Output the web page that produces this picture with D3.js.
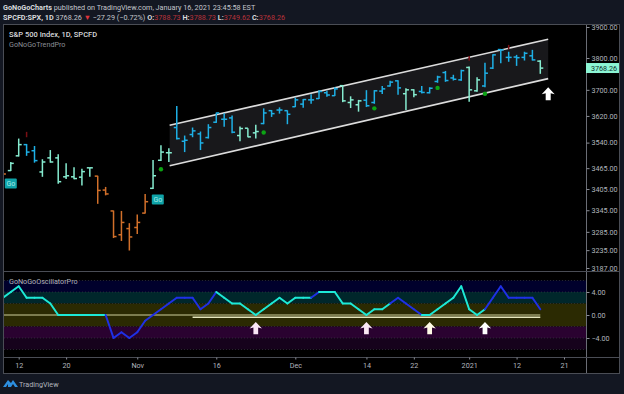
<!DOCTYPE html>
<html>
<head>
<meta charset="utf-8">
<script src="https://cdn.jsdelivr.net/npm/d3@7"></script>
<style>
  html, body { margin: 0; padding: 0; background: #131722; overflow: hidden; }
  text { font-family: Roboto, "Open Sans", sans-serif; }
</style>
</head>
<body>
<div id="chart"></div>
<script>
// daily bars, first entry is the one cut off at the left edge, Jan 15 is the last
const firstBar = -2;
const opens = [3465, 3458, 3501, 3534, 3516, 3454, 3495, 3495, 3440, 3440, 3439, 3466, 3442, 3402, 3343, 3277, 3294, 3297, 3337, 3407, 3488, 3510,
  3585, 3544, 3564, 3566, 3555, 3601, 3610, 3614, 3561, 3583, 3569, 3597, 3636, 3638, 3636, 3648, 3656, 3669, 3673, 3691, 3682, 3713, 3661, 3654,
  3668, 3661, 3696, 3712, 3728, 3688, 3700, 3695, 3691, 3726, 3754, 3737, 3731, 3770, 3697, 3712, 3768, 3827, 3802, 3803, 3802, 3807, 3790];
const highs = [3470, 3483, 3552, 3536, 3530, 3491, 3518, 3506, 3479, 3468, 3463, 3466, 3443, 3411, 3344, 3343, 3309, 3333, 3391, 3489, 3532, 3523,
  3650, 3561, 3585, 3573, 3595, 3630, 3628, 3621, 3588, 3583, 3593, 3643, 3638, 3646, 3637, 3676, 3672, 3686, 3699, 3697, 3708, 3715, 3680, 3669,
  3699, 3699, 3712, 3728, 3730, 3705, 3702, 3712, 3708, 3744, 3759, 3747, 3763, 3773, 3739, 3785, 3812, 3829, 3820, 3810, 3820, 3826, 3793];
const lows = [3440, 3457, 3499, 3501, 3481, 3440, 3481, 3420, 3434, 3433, 3415, 3440, 3363, 3387, 3268, 3260, 3234, 3279, 3336, 3405, 3486, 3483,
  3549, 3512, 3556, 3518, 3552, 3599, 3587, 3568, 3544, 3556, 3552, 3595, 3617, 3627, 3595, 3647, 3645, 3657, 3672, 3679, 3681, 3662, 3644, 3633,
  3647, 3657, 3687, 3710, 3685, 3638, 3677, 3689, 3689, 3722, 3725, 3729, 3728, 3663, 3694, 3708, 3765, 3783, 3788, 3775, 3792, 3792, 3750];
const closes = [3448, 3479, 3534, 3512, 3487, 3483, 3483, 3426, 3443, 3435, 3455, 3466, 3401, 3391, 3272, 3311, 3271, 3311, 3369, 3443, 3512, 3510,
  3552, 3547, 3575, 3539, 3585, 3629, 3610, 3571, 3582, 3557, 3573, 3629, 3627, 3638, 3625, 3669, 3670, 3669, 3695, 3684, 3703, 3666, 3669, 3666,
  3651, 3697, 3703, 3724, 3706, 3700, 3685, 3692, 3705, 3740, 3729, 3733, 3760, 3700, 3731, 3752, 3810, 3826, 3802, 3801, 3815, 3794, 3768];
const trend = ["o","m","m","b","b","m","m","m","m","m","m","m","o","o","o","o","o","o","o","m","m","m",
  "b","b","b","b","b","b","b","b","m","m","m","b","b","b","b","b","b","b","b","b","b","m","m","m",
  "b","b","b","b","b","m","m","b","b","b","b","b","b","m","m","b","b","b","b","b","b","b","m"];

// little dark red blips above a few bars
const nogoBars = [1, 57, 62];
const nogoTop = [3572, 3806, 3842];
const nogoBottom = [3556, 3791, 3828];

// green dots
const dotBars = [18, 31, 45, 53, 59];
const dotPrices = [3462, 3570, 3643, 3706, 3688];

// go labels
const goBars = [-1, 17.6];
const goPrices = [3421, 3375];

// channel drawn on the chart
const channelBars = [19.1, 67];
const channelUpper = [3592, 3860];
const channelLower = [3472, 3735];

const priceTicks = [3900, 3800, 3700, 3620, 3540, 3465, 3405, 3345, 3285, 3235, 3187];
const lastPrice = 3768.26;

const oscFirst = -2;
const oscValues = [3, 4, 5, 3, 3, 3, 2, 0, 0, 0, 0, 0, 0, 0, -4, -3, -4, -3, -1, 0, 1, 2, 3, 3, 3, 1, 2, 4, 3, 2, 2, 1, 0, 1, 2, 3, 2, 3, 3, 3,
  4, 4, 4, 2, 2, 1, 0, 1, 1, 2, 3, 2, 1, 0, 0, 1, 2, 3, 5, 1, 0, 1, 3, 5, 3, 3, 3, 3, 1];
const oscBlue = [[11, 25], [37, 38], [47, 51], [59, 66]];
const oscTicks = [4, 0, -4];
const oscBands = [[6, 4, "#00002c"], [4, 2, "#00272b"], [2, -2, "#2b2a02"], [-2, -4, "#2a0230"], [-4, -6, "#16021c"]];
const supportFrom = 22;
const supportTo = 66;
const supportLevel = -0.4;
const oscArrowBars = [30, 44, 52, 59];

const timeTicks = [0, 6, 15, 25, 35, 44, 50, 57, 63, 69];
const timeLabels = ["12", "20", "Nov", "16", "Dec", "14", "22", "2021", "12", "21"];

const width = 624, height = 394;
const plotLeft = 4, plotRight = 586, plotTop = 25, paneDiv = 271, paneBottom = 357, plotBottom = 373, axisRight = 619;

const colors = { m: "#86ecd0", b: "#1eb0e6", o: "#d2702a" };

const svg = d3.select("#chart").append("svg")
  .attr("width", width)
  .attr("height", height)
  .style("display", "block");

svg.append("rect").attr("width", width).attr("height", height).attr("fill", "#131722");
svg.append("rect").attr("x", plotLeft).attr("y", plotTop).attr("width", axisRight - plotLeft).attr("height", plotBottom - plotTop).attr("fill", "#000");

const defs = svg.append("defs");
defs.append("clipPath").attr("id", "plot-clip")
  .append("rect").attr("x", plotLeft).attr("y", plotTop).attr("width", plotRight - plotLeft).attr("height", paneBottom - plotTop);

const x = d3.scaleLinear().domain([0, 69]).range([18.7, 564]);
const y = d3.scaleLog().domain([3187, 3900]).range([268, 27]);
const yOsc = d3.scaleLinear().domain([-6, 6]).range([349.5, 280.5]);

const plot = svg.append("g").attr("clip-path", "url(#plot-clip)");

// oscillator bands behind everything
plot.selectAll("rect.band")
  .data(oscBands)
  .join("rect")
  .attr("class", "band")
  .attr("x", plotLeft)
  .attr("width", plotRight - plotLeft)
  .attr("y", d => yOsc(d[0]))
  .attr("height", d => yOsc(d[1]) - yOsc(d[0]))
  .attr("fill", d => d[2]);

plot.selectAll("line.bandline")
  .data([6, 4, 2, -2, -4, -6])
  .join("line")
  .attr("class", "bandline")
  .attr("x1", plotLeft).attr("x2", plotRight)
  .attr("y1", d => yOsc(d)).attr("y2", d => yOsc(d))
  .attr("stroke", "#3c3c46")
  .attr("stroke-width", 0.6)
  .attr("stroke-dasharray", "1,2");

// channel
const channelArea = d3.area()
  .x((d, i) => x(channelBars[i]))
  .y0((d, i) => y(channelLower[i]))
  .y1((d, i) => y(channelUpper[i]));
plot.append("path").datum(channelBars).attr("d", channelArea).attr("fill", "#18181b");
[channelUpper, channelLower].forEach(level => {
  plot.append("line")
    .attr("x1", x(channelBars[0])).attr("x2", x(channelBars[1]))
    .attr("y1", y(level[0])).attr("y2", y(level[1]))
    .attr("stroke", "#dcdcdc")
    .attr("stroke-width", 1.6);
});

// ohlc bars
const bars = plot.selectAll("g.bar")
  .data(opens.map((o, i) => ({ i: firstBar + i, o, h: highs[i], l: lows[i], c: closes[i], t: trend[i] })))
  .join("g")
  .attr("class", "bar")
  .attr("stroke", d => colors[d.t])
  .attr("stroke-width", 1.5);
bars.append("line").attr("x1", d => x(d.i)).attr("x2", d => x(d.i)).attr("y1", d => y(d.h)).attr("y2", d => y(d.l));
bars.append("line").attr("x1", d => x(d.i) - 3).attr("x2", d => x(d.i)).attr("y1", d => y(d.o)).attr("y2", d => y(d.o));
bars.append("line").attr("x1", d => x(d.i)).attr("x2", d => x(d.i) + 3).attr("y1", d => y(d.c)).attr("y2", d => y(d.c));

plot.selectAll("line.nogo")
  .data(nogoBars)
  .join("line")
  .attr("class", "nogo")
  .attr("x1", d => x(d)).attr("x2", d => x(d))
  .attr("y1", (d, i) => y(nogoTop[i])).attr("y2", (d, i) => y(nogoBottom[i]))
  .attr("stroke", "#7a0f14")
  .attr("stroke-width", 1.5);

plot.selectAll("circle.dot")
  .data(dotBars)
  .join("circle")
  .attr("class", "dot")
  .attr("cx", d => x(d))
  .attr("cy", (d, i) => y(dotPrices[i]))
  .attr("r", 2.2)
  .attr("fill", "#0ca414");

// Go labels
const go = plot.selectAll("g.go").data(goBars).join("g")
  .attr("class", "go")
  .attr("transform", (d, i) => `translate(${x(d)},${y(goPrices[i])})`);
go.append("rect").attr("x", -6).attr("y", -5).attr("width", 12).attr("height", 10).attr("rx", 1).attr("fill", "#0fa3a8");
go.append("text").attr("text-anchor", "middle").attr("y", 2.7).attr("font-size", 7).attr("fill", "#a6ecea").text("Go");

// oscillator zero line and support line
plot.append("line")
  .attr("x1", plotLeft).attr("x2", x(66))
  .attr("y1", yOsc(0)).attr("y2", yOsc(0))
  .attr("stroke", "#cfcf9c").attr("stroke-width", 1);
plot.append("line")
  .attr("x1", x(supportFrom)).attr("x2", x(supportTo))
  .attr("y1", yOsc(supportLevel)).attr("y2", yOsc(supportLevel))
  .attr("stroke", "#e6e6bc").attr("stroke-width", 1.6);

// oscillator line, one segment per bar so colour can switch
const oscPoints = oscValues.map((v, i) => ({ i: oscFirst + i, v }));
const isBlue = i => oscBlue.some(r => i >= r[0] && i < r[1]);
plot.selectAll("line.osc")
  .data(oscPoints.slice(0, -1))
  .join("line")
  .attr("class", "osc")
  .attr("x1", d => x(d.i))
  .attr("y1", d => yOsc(d.v))
  .attr("x2", (d, k) => x(oscPoints[k + 1].i))
  .attr("y2", (d, k) => yOsc(oscPoints[k + 1].v))
  .attr("stroke", d => isBlue(d.i) ? "#1f30e6" : "#1de9d6")
  .attr("stroke-width", 2)
  .attr("stroke-linecap", "round");

// white up arrows
function arrow(g, cx, tip, s, color) {
  const p = d3.path();
  p.moveTo(cx, tip);
  p.lineTo(cx + 6.5 * s, tip + 7 * s);
  p.lineTo(cx + 2.5 * s, tip + 6 * s);
  p.lineTo(cx + 2.5 * s, tip + 13 * s);
  p.lineTo(cx - 2.5 * s, tip + 13 * s);
  p.lineTo(cx - 2.5 * s, tip + 6 * s);
  p.lineTo(cx - 6.5 * s, tip + 7 * s);
  p.closePath();
  g.append("path").attr("d", p.toString()).attr("fill", color);
}
oscArrowBars.forEach((b, i) => arrow(plot, x(b), yOsc(-1.2), 0.95, ["#fbe6f6", "#fbe8f4", "#fffbe6", "#ffffff"][i]));
arrow(plot, x(67), y(3708), 1, "#ffffff");

// frame
const frameColor = "#4a4d55";
svg.append("rect").attr("x", plotLeft - 0.5).attr("y", plotTop - 0.5).attr("width", axisRight - plotLeft + 1).attr("height", plotBottom - plotTop + 1)
  .attr("fill", "none").attr("stroke", frameColor);
svg.append("line").attr("x1", plotRight + 0.5).attr("x2", plotRight + 0.5).attr("y1", plotTop).attr("y2", plotBottom).attr("stroke", "#6a6d75");
[paneDiv, paneBottom].forEach(v => {
  svg.append("line").attr("x1", plotLeft).attr("x2", axisRight).attr("y1", v + 0.5).attr("y2", v + 0.5).attr("stroke", frameColor);
});

// axes
const styleAxis = g => {
  g.select(".domain").remove();
  g.selectAll("line").attr("stroke", "#8a8d95");
  g.selectAll("text").attr("fill", "#b2b5be").attr("font-size", 7.2).attr("font-family", "Roboto, sans-serif");
};
svg.append("g")
  .attr("transform", `translate(${plotRight + 0.5},0)`)
  .call(d3.axisRight(y).tickValues(priceTicks).tickFormat(d3.format(".2f")).tickSize(3).tickPadding(2))
  .call(styleAxis);
svg.append("g")
  .attr("transform", `translate(${plotRight + 0.5},0)`)
  .call(d3.axisRight(yOsc).tickValues(oscTicks).tickFormat(d => d3.format(".2f")(d).replace("-", "\u2212")).tickSize(3).tickPadding(2))
  .call(styleAxis);
svg.append("g")
  .attr("transform", `translate(0,${paneBottom + 0.5})`)
  .call(d3.axisBottom(x).tickValues(timeTicks).tickFormat((d, i) => timeLabels[i]).tickSize(2).tickPadding(3))
  .call(styleAxis);

// last price tag
svg.append("rect").attr("x", plotRight).attr("y", y(lastPrice) - 5).attr("width", axisRight - plotRight).attr("height", 10).attr("fill", "#8cf5d4");
svg.append("text").attr("x", plotRight + 5).attr("y", y(lastPrice) + 2.7).attr("font-size", 7.2).attr("fill", "#10302c").text(d3.format(".2f")(lastPrice));

// legend text in the panes
svg.append("text").attr("x", 9).attr("y", 37).attr("font-size", 7.5).attr("font-weight", 500).attr("fill", "#d8d9dc").text("S&P 500 Index, 1D, SPCFD");
svg.append("text").attr("x", 9).attr("y", 47).attr("font-size", 7.2).attr("fill", "#8a8d95").text("GoNoGoTrendPro");
svg.append("text").attr("x", 9).attr("y", 283.5).attr("font-size", 7.2).attr("fill", "#b0b2b8").text("GoNoGoOscillatorPro");

// header
const line1 = svg.append("text").attr("x", 3).attr("y", 10).attr("font-size", 7.25).attr("fill", "#c4c6cc");
line1.append("tspan").attr("font-weight", 700).attr("fill", "#d8d9dc").text("GoNoGoCharts");
line1.append("tspan").text(" published on TradingView.com, January 16, 2021 23:45:58 EST");

const red = "#b8323a";
const line2 = svg.append("text").attr("x", 3).attr("y", 20).attr("font-size", 7.25).attr("fill", "#c4c6cc");
line2.append("tspan").attr("font-weight", 700).attr("fill", "#d8d9dc").text("SPCFD:SPX, 1D");
line2.append("tspan").text("  3768.26 ");
line2.append("tspan").attr("fill", "#e0343c").text("\u25BC");
line2.append("tspan").text(" \u221227.29 (\u22120.72%) ");
[["O:", "3788.73"], ["H:", "3788.73"], ["L:", "3749.62"], ["C:", "3768.26"]].forEach(d => {
  line2.append("tspan").attr("font-weight", 700).attr("fill", "#d8d9dc").text(d[0]);
  line2.append("tspan").attr("fill", red).text(d[1] + " ");
});

// tradingview mark
svg.append("path")
  .attr("d", "M3 387 L8 380 L11 383 L13 380 L18 387 L15 387 L13 384 L11 387 L8 387 L8 384 L6 387 Z")
  .attr("fill", "#2d8fe0");
svg.append("text").attr("x", 19).attr("y", 386.5).attr("font-size", 7.2).attr("fill", "#b2b5be").text("TradingView");
</script>
</body>
</html>
